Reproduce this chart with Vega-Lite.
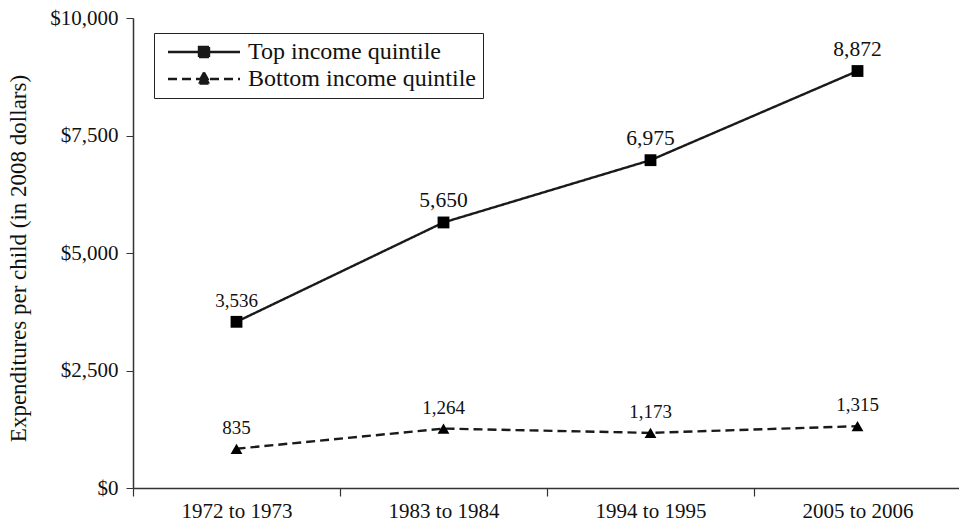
{
  "$schema": "https://vega.github.io/schema/vega-lite/v6.json",
  "width": 828,
  "height": 470,
  "autosize": {"type": "none"},
  "padding": {"left": 133, "top": 18, "right": 0, "bottom": 35},
  "background": "white",
  "config": {
    "view": {"stroke": null},
    "font": "Liberation Serif",
    "axis": {"labelFont": "Liberation Serif", "titleFont": "Liberation Serif", "domainColor": "#333", "tickColor": "#333", "labelColor": "#111", "titleColor": "#111", "grid": false}
  },
  "data": {
    "values": [
      {"period": "1972 to 1973", "series": "Top income quintile", "value": 3536},
      {"period": "1983 to 1984", "series": "Top income quintile", "value": 5650},
      {"period": "1994 to 1995", "series": "Top income quintile", "value": 6975},
      {"period": "2005 to 2006", "series": "Top income quintile", "value": 8872},
      {"period": "1972 to 1973", "series": "Bottom income quintile", "value": 835},
      {"period": "1983 to 1984", "series": "Bottom income quintile", "value": 1264},
      {"period": "1994 to 1995", "series": "Bottom income quintile", "value": 1173},
      {"period": "2005 to 2006", "series": "Bottom income quintile", "value": 1315}
    ]
  },
  "encoding": {
    "x": {
      "field": "period", "type": "nominal", "sort": null,
      "scale": {"type": "band", "paddingInner": 0, "paddingOuter": 0},
      "axis": {"title": null, "labelAngle": 0, "labelFontSize": 21, "tickBand": "extent", "tickSize": 8, "labelPadding": 4, "domainWidth": 1.5, "tickWidth": 1.2}
    },
    "y": {
      "field": "value", "type": "quantitative",
      "scale": {"domain": [0, 10000], "nice": false, "zero": true},
      "axis": {"title": "Expenditures per child (in 2008 dollars)", "values": [0, 2500, 5000, 7500, 10000], "format": "$,.0f", "labelFontSize": 21, "titleFontSize": 23, "titleFontWeight": "normal", "tickSize": 7, "labelPadding": 8, "titleX": -115, "titleY": 240, "titleBaseline": "middle", "titleAlign": "center", "titleAngle": -90, "domainWidth": 1.5}
    }
  },
  "layer": [
    {
      "mark": {"type": "line", "color": "#1a1a1a", "strokeWidth": 2.4},
      "encoding": {
        "strokeDash": {
          "field": "series", "type": "nominal",
          "scale": {"domain": ["Top income quintile", "Bottom income quintile"], "range": [[1, 0], [9, 5]]},
          "legend": {
            "orient": "none", "legendX": 21, "legendY": 15, "title": null,
            "strokeColor": "#222", "padding": 7, "labelFont": "Liberation Serif", "labelFontSize": 24, "labelColor": "#111", "labelLimit": 0,
            "symbolSize": 400, "symbolStrokeWidth": 2, "symbolStrokeColor": "#1a1a1a", "labelOffset": 63, "rowPadding": 3,
            "encode": {
              "symbols": {
                "update": {
                  "shape": {"signal": "datum.value === 'Top income quintile' ? 'M-0.5,0H6.7M2.6,-0.5H3.6V0.5H2.6Z' : 'M-0.5,0H6.7M3.1,-0.65L3.7,0.45H2.5Z'"},
                  "fill": {"value": "#1a1a1a"},
                  "stroke": {"value": "#1a1a1a"},
                  "strokeWidth": {"value": 2.4}
                }
              }
            }
          }
        }
      }
    },
    {
      "mark": {"type": "point", "filled": true, "color": "#000", "opacity": 1, "size": 140},
      "encoding": {
        "shape": {"condition": {"test": "datum.series === 'Top income quintile'", "value": "square"}, "value": "triangle-up"}
      }
    },
    {
      "mark": {"type": "text", "dy": -21, "baseline": "middle", "color": "#111", "font": "Liberation Serif"},
      "encoding": {
        "text": {"field": "value", "type": "quantitative", "format": ","},
        "size": {"condition": {"test": "datum.value > 5000", "value": 21.5}, "value": 19}
      }
    }
  ]
}
